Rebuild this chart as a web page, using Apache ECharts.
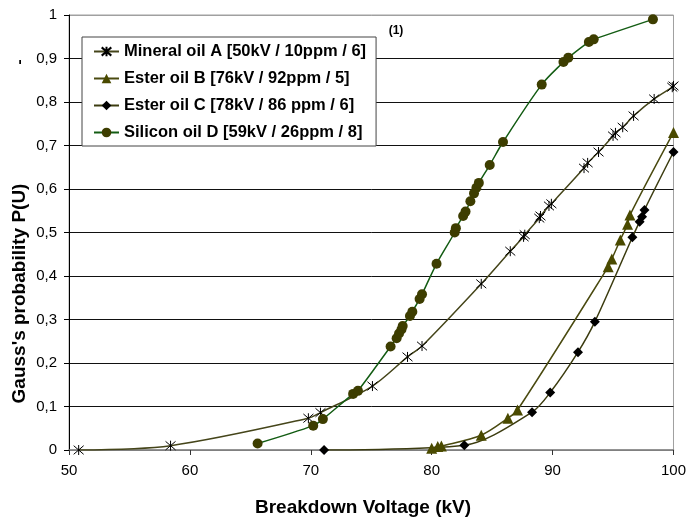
<!DOCTYPE html>
<html>
<head>
<meta charset="utf-8">
<script src="https://cdn.jsdelivr.net/npm/echarts@6/dist/echarts.min.js"></script>
<style>
html,body{margin:0;padding:0;background:#fff;}
#chart{width:689px;height:520px;}
</style>
</head>
<body>
<div id="chart"></div>
<script>
// ---- data ----
const seriesNames = [
  'Mineral oil A [50kV / 10ppm / 6]',
  'Ester oil B [76kV / 92ppm / 5]',
  'Ester oil C [78kV / 86 ppm / 6]',
  'Silicon oil D [59kV / 26ppm / 8]'
];
const mineralA_x = [50.8, 58.4, 69.8, 70.8, 75.1, 78.0, 79.2, 84.1, 86.5, 87.6, 87.7, 88.9, 89.0, 89.7, 89.9, 92.6, 92.9, 93.8, 95.0, 95.2, 95.8, 96.7, 98.4, 99.9, 100.0];
const mineralA_y = [0.0, 0.01, 0.073, 0.086, 0.147, 0.214, 0.239, 0.382, 0.457, 0.49, 0.495, 0.533, 0.538, 0.561, 0.566, 0.648, 0.66, 0.685, 0.722, 0.729, 0.742, 0.768, 0.807, 0.834, 0.837];
const esterB_x = [80.0, 80.5, 80.8, 84.1, 86.3, 87.1, 94.6, 94.9, 95.6, 96.2, 96.4, 100.0];
const esterB_y = [0.004, 0.008, 0.009, 0.034, 0.073, 0.092, 0.421, 0.439, 0.483, 0.519, 0.54, 0.73];
const esterC_x = [71.1, 82.7, 88.3, 89.8, 92.1, 93.5, 96.6, 97.2, 97.4, 97.6, 100.0];
const esterC_y = [0.0, 0.011, 0.087, 0.132, 0.225, 0.295, 0.489, 0.525, 0.536, 0.552, 0.685];
const siliconD_x = [65.6, 70.2, 71.0, 73.5, 73.9, 76.6, 77.1, 77.3, 77.5, 77.6, 78.2, 78.4, 79.0, 79.2, 80.4, 81.9, 82.0, 82.6, 82.8, 83.2, 83.5, 83.7, 83.9, 84.8, 85.9, 89.1, 90.9, 91.3, 93.0, 93.4, 98.3];
const siliconD_y = [0.015, 0.056, 0.071, 0.129, 0.136, 0.238, 0.257, 0.268, 0.277, 0.285, 0.308, 0.318, 0.347, 0.358, 0.428, 0.5, 0.51, 0.538, 0.548, 0.572, 0.59, 0.603, 0.614, 0.655, 0.708, 0.84, 0.892, 0.902, 0.938, 0.944, 0.99];
const xTitle = 'Breakdown Voltage (kV)';
const yTitle = "Gauss's probability P(U)";
const noteText = '(1)';

function pairs(xs, ys) { return xs.map((x, i) => [x, ys[i]]); }

const FONT = '"Liberation Sans", Arial, sans-serif';
const asterisk = 'path://M5,0L5,10M0.7,0.7L9.3,9.3M9.3,0.7L0.7,9.3';

const chart = echarts.init(document.getElementById('chart'), null, {renderer: 'canvas'});

const gridColors = ['#808080','#111','#111','#111','#111','#111','#111','#111','#111','#111','#a0a0a0'];

const option = {
  backgroundColor: '#fff',
  animation: false,
  textStyle: {fontFamily: FONT},
  grid: {left: 69, right: 12, top: 15, bottom: 70, show: true, borderColor: '#a0a0a0', borderWidth: 1, backgroundColor: 'transparent'},
  xAxis: {
    type: 'value', min: 50, max: 100, interval: 10,
    axisLine: {lineStyle: {color: '#808080', width: 1.5}},
    axisTick: {show: true, length: 5, inside: false, lineStyle: {color: '#333'}},
    axisLabel: {color: '#000', fontSize: 15, margin: 13, fontFamily: FONT},
    splitLine: {show: false}
  },
  yAxis: {
    type: 'value', min: 0, max: 1, interval: 0.1,
    axisLine: {show: true, lineStyle: {color: '#000', width: 1}},
    axisTick: {show: true, length: 5, lineStyle: {color: '#000'}},
    axisLabel: {color: '#000', fontSize: 15, margin: 12, fontFamily: FONT,
      formatter: v => String(Math.round(v * 10) / 10).replace('.', ',')},
    splitLine: {show: true, lineStyle: {color: gridColors, width: 1}}
  },
  legend: {
    orient: 'vertical', left: 82, top: 37,
    padding: [6, 10, 5, 11],
    itemGap: 10,
    itemWidth: 25, itemHeight: 12,
    backgroundColor: '#fff', borderColor: '#444', borderWidth: 1,
    textStyle: {fontSize: 16.5, fontWeight: 'bold', color: '#000', fontFamily: FONT, lineHeight: 17},
    data: seriesNames
  },
  series: [
    {
      name: seriesNames[0], type: 'line', smooth: 0.3,
      data: pairs(mineralA_x, mineralA_y),
      symbol: asterisk, symbolSize: 10,
      lineStyle: {color: '#45451a', width: 1.5},
      itemStyle: {color: 'rgba(0,0,0,0)', borderColor: '#000', borderWidth: 1},
      z: 3
    },
    {
      name: seriesNames[1], type: 'line', smooth: 0.3,
      data: pairs(esterB_x, esterB_y),
      symbol: 'triangle', symbolSize: 11,
      lineStyle: {color: '#4a4a10', width: 1.5},
      itemStyle: {color: '#4a4a00'},
      z: 3
    },
    {
      name: seriesNames[2], type: 'line', smooth: 0.3,
      data: pairs(esterC_x, esterC_y),
      symbol: 'diamond', symbolSize: 10,
      lineStyle: {color: '#3c3c10', width: 1.5},
      itemStyle: {color: '#000'},
      z: 3
    },
    {
      name: seriesNames[3], type: 'line', smooth: 0.3,
      data: pairs(siliconD_x, siliconD_y),
      symbol: 'circle', symbolSize: 10,
      lineStyle: {color: '#135c13', width: 1.5},
      itemStyle: {color: '#3d3d00'},
      z: 3
    }
  ],
  graphic: [
    {
      type: 'text', x: 20, y: 293.5, rotation: Math.PI / 2,
      style: {text: yTitle, font: 'bold 19px ' + FONT, fill: '#000', align: 'center', verticalAlign: 'middle'}
    },
    {
      type: 'text', x: 20, y: 62, rotation: Math.PI / 2,
      style: {text: '-', font: 'bold 15px ' + FONT, fill: '#000', align: 'center', verticalAlign: 'middle'}
    },
    {
      type: 'text', x: 363, y: 508,
      style: {text: xTitle, font: 'bold 19px ' + FONT, fill: '#000', align: 'center', verticalAlign: 'middle'}
    },
    {
      type: 'text', x: 396, y: 31,
      style: {text: noteText, font: 'bold 12px ' + FONT, fill: '#000', align: 'center', verticalAlign: 'middle'}
    }
  ]
};
chart.setOption(option);
</script>
</body>
</html>
